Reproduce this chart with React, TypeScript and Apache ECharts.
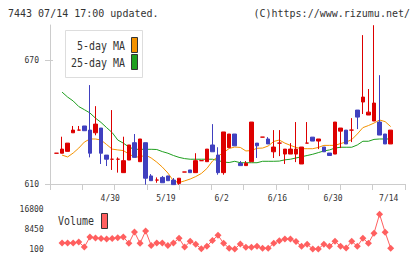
import React, { useEffect, useRef } from "react";
import * as echarts from "echarts";

// Trading days shown on the chart
const dates = [
  "4/15", "4/16", "4/17", "4/20", "4/21", "4/22", "4/23", "4/24", "4/27", "4/28",
  "4/30", "5/1", "5/7", "5/8", "5/11", "5/12", "5/13", "5/14", "5/15", "5/18",
  "5/19", "5/20", "5/21", "5/22", "5/25", "5/26", "5/27", "5/28", "5/29", "6/1",
  "6/2", "6/3", "6/4", "6/5", "6/8", "6/9", "6/10", "6/11", "6/12", "6/15",
  "6/16", "6/17", "6/18", "6/19", "6/22", "6/23", "6/24", "6/25", "6/26", "6/29",
  "6/30", "7/1", "7/2", "7/3", "7/6", "7/7", "7/8", "7/9", "7/10", "7/13",
  "7/14",
];

const opens = [
  624.9, 624.9, 625.8, 634.8, 636.1, 638.1, 636.1, 634.8, 637.1, 624.0,
  622.0, 622.0, 615.5, 621.6, 630.0, 620.8, 630.0, 613.9, 611.9, 613.2,
  613.9, 611.9, 610.3, 615.8, 616.8, 615.5, 621.3, 620.8, 628.9, 624.0,
  615.5, 627.6, 634.2, 620.0, 618.9, 620.8, 629.8, 632.7, 631.8, 625.6,
  629.8, 624.5, 624.5, 624.5, 619.7, 629.8, 632.7, 630.8, 627.9, 625.0,
  624.5, 635.6, 636.1, 636.1, 645.8, 649.7, 643.4, 640.5, 640.0, 634.2,
  629.4,
];
const closes = [
  624.9, 626.9, 629.8, 636.1, 636.1, 635.8, 624.9, 639.0, 624.9, 622.0,
  622.0, 622.0, 621.3, 628.9, 622.9, 631.8, 612.8, 611.6, 611.9, 610.6,
  611.6, 609.7, 612.8, 615.8, 615.5, 621.3, 621.3, 626.9, 625.6, 615.5,
  635.2, 634.2, 628.5, 618.9, 620.0, 640.0, 628.5, 632.7, 629.4, 627.9,
  629.8, 626.9, 626.9, 626.9, 627.9, 629.8, 630.8, 631.8, 625.6, 623.8,
  640.0, 637.1, 629.4, 636.1, 642.4, 652.1, 644.8, 649.2, 633.7, 629.4,
  636.1,
];
const lows = [
  624.9, 624.9, 625.8, 634.8, 636.1, 635.8, 622.9, 633.6, 619.7, 618.7,
  616.8, 615.5, 615.5, 621.6, 622.9, 620.8, 609.7, 611.6, 610.6, 610.6,
  611.6, 609.7, 609.6, 615.8, 615.5, 615.5, 621.3, 620.8, 625.6, 614.5,
  614.5, 627.6, 628.5, 618.9, 618.9, 620.8, 622.6, 632.7, 629.4, 622.6,
  623.5, 619.7, 624.5, 620.6, 619.7, 629.8, 630.8, 626.9, 625.6, 623.8,
  624.5, 627.4, 629.4, 630.3, 636.6, 643.9, 643.4, 640.5, 633.7, 629.4,
  629.4,
];
const highs = [
  624.9, 632.9, 629.8, 638.1, 638.1, 638.1, 657.9, 647.7, 637.1, 624.0,
  645.8, 622.9, 632.9, 628.9, 634.2, 631.8, 630.0, 614.8, 613.2, 613.9,
  613.9, 612.9, 612.8, 615.8, 616.8, 624.9, 621.3, 626.9, 639.0, 627.8,
  635.2, 634.2, 634.2, 621.1, 621.1, 640.0, 629.8, 632.7, 632.7, 636.1,
  636.1, 626.9, 629.8, 640.0, 627.9, 640.0, 632.7, 631.8, 627.9, 625.0,
  640.0, 637.1, 636.1, 641.9, 645.8, 682.1, 656.0, 686.9, 662.7, 634.2,
  636.1,
];

// Moving averages (first day has no value)
const ma5 = [
  null,
  624.0, 623.1, 625.0, 627.4, 630.3, 631.8, 631.8, 631.3, 629.1, 626.9,
  626.5, 626.2, 624.5, 623.1, 623.1, 624.0, 622.6, 620.6, 618.2, 615.3,
  611.5, 610.7, 611.5, 612.4, 613.6, 615.1, 617.5, 621.1, 623.5, 625.2,
  627.2, 627.9, 627.7, 626.0, 626.2, 627.3, 627.4, 628.4, 630.6, 631.3,
  629.8, 628.7, 627.7, 627.1, 627.1, 627.1, 627.7, 628.7, 628.7, 628.7,
  629.6, 630.3, 631.5, 634.2, 637.3, 638.3, 639.5, 641.0, 640.2, 637.8,
];
const ma25 = [
  null,
  654.5, 652.1, 650.2, 647.5, 646.0, 644.4, 641.9, 639.8, 637.3, 634.9,
  631.3, 629.8, 627.9, 626.8, 626.8, 626.8, 626.8, 626.7, 625.7, 624.9,
  623.8, 622.9, 622.3, 622.0, 622.0, 622.0, 622.0, 622.0, 621.4, 620.6,
  620.4, 621.0, 620.3, 620.3, 620.3, 620.3, 621.0, 621.0, 621.0, 621.1,
  621.7, 622.0, 622.6, 623.2, 623.8, 624.4, 625.2, 626.0, 626.5, 627.4,
  627.8, 627.8, 627.8, 628.9, 630.7, 630.7, 631.6, 631.8, 631.8, 631.8,
];

const volumes = [
  null,
  2600, 2600, 2600, 3000, 900, 5100, 4700, 4500, 4300, 4500,
  4800, 5100, 2500, 7200, 2500, 7600, 1600, 2600, 2600, 1600,
  2600, 4600, 900, 3300, 2100, 200, 1200, 3700, 5800, 2500,
  400, 150, 2200, 800, 800, 1200, 400, 400, 2500, 3500,
  4300, 4300, 3200, 1200, 2100, 100, 150, 2100, 1200, 3300,
  1200, 500, 3300, 1200, 4600, 2500, 6700, 14600, 7100, 400,
];

const priceTicks = [610, 670];
const volumeTicks = [100, 8450, 16800];
const priceMin = 610;
const priceMax = 687;
const volumeMin = 100;
const volumeMax = 16800;

const UP = "#dd0000";
const DOWN = "#4040bf";
const MA5_COLOR = "#f39200";
const MA25_COLOR = "#1f9f1f";
const VOL_COLOR = "#ff5f5f";
const AXIS_COLOR = "#cccccc";
const TEXT_COLOR = "#333333";
const MONO = "'DejaVu Sans Mono', 'Liberation Mono', monospace";

export default function App() {
  const ref = useRef<HTMLDivElement>(null);

  useEffect(() => {
    if (!ref.current) return;
    const chart = echarts.init(ref.current, null, { renderer: "svg" });

    const candles = dates.map((_, i) => [opens[i], closes[i], lows[i], highs[i]]);

    const labelStyle = {
      fontFamily: MONO,
      fontSize: 8,
      color: TEXT_COLOR,
    };

    const legendText = (text: string, x: number, y: number, align: string) => ({
      type: "text",
      x,
      y,
      scaleX: 0.83,
      style: {
        text,
        fill: TEXT_COLOR,
        font: `12px ${MONO}`,
        align,
        textAlign: align,
        verticalAlign: "middle",
        textVerticalAlign: "middle",
      },
      z: 10,
    });

    chart.setOption({
      animation: false,
      backgroundColor: "#ffffff",
      grid: [
        // frame with ticks and price labels
        { left: 50, right: 15, top: 25, bottom: 75 },
        // candles
        { left: 53.7, right: 26.5, top: 25, bottom: 75 },
        // volume
        { left: 53.7, right: 26.5, top: 209, bottom: 10 },
      ],
      xAxis: [
        {
          type: "value",
          gridIndex: 0,
          min: 0,
          max: 11,
          interval: 1,
          axisLine: { show: true, lineStyle: { color: AXIS_COLOR } },
          axisTick: { show: true, length: 6, lineStyle: { color: AXIS_COLOR } },
          axisLabel: { show: false },
          splitLine: { show: false },
        },
        {
          type: "category",
          gridIndex: 1,
          data: dates,
          boundaryGap: true,
          axisLine: { show: false },
          axisTick: { show: false },
          axisLabel: {
            ...labelStyle,
            margin: 10,
            padding: [0, 4, 0, 0],
            interval: (index: number) => index > 0 && index % 10 === 0,
          },
          splitLine: { show: false },
        },
        {
          type: "category",
          gridIndex: 2,
          data: dates,
          boundaryGap: true,
          show: false,
        },
      ],
      yAxis: [
        {
          type: "value",
          gridIndex: 0,
          position: "left",
          min: priceMin,
          max: priceMax,
          axisLine: { show: true, lineStyle: { color: AXIS_COLOR } },
          axisTick: {
            show: true,
            length: 5,
            customValues: priceTicks,
            lineStyle: { color: AXIS_COLOR },
          },
          axisLabel: { ...labelStyle, margin: 11, customValues: priceTicks },
          splitLine: { show: false },
        },
        {
          type: "value",
          gridIndex: 0,
          position: "left",
          min: priceMin,
          max: priceMax,
          axisLine: { show: false },
          axisTick: {
            show: true,
            inside: true,
            length: 3,
            customValues: priceTicks,
            lineStyle: { color: AXIS_COLOR },
          },
          axisLabel: { show: false },
          splitLine: { show: false },
        },
        {
          type: "value",
          gridIndex: 1,
          min: priceMin,
          max: priceMax,
          show: false,
          splitLine: { show: false },
        },
        {
          type: "value",
          gridIndex: 2,
          min: volumeMin,
          max: volumeMax,
          axisLine: { show: false },
          axisTick: { show: false },
          axisLabel: {
            ...labelStyle,
            margin: 10,
            customValues: volumeTicks,
            formatter: (v: number) => String(v),
          },
          splitLine: { show: false },
        },
      ],
      series: [
        {
          name: "25-day MA",
          type: "line",
          xAxisIndex: 1,
          yAxisIndex: 2,
          data: ma25,
          showSymbol: false,
          lineStyle: { color: MA25_COLOR, width: 1 },
          z: 1,
        },
        {
          name: "5-day MA",
          type: "line",
          xAxisIndex: 1,
          yAxisIndex: 2,
          data: ma5,
          showSymbol: false,
          lineStyle: { color: MA5_COLOR, width: 1 },
          z: 1,
        },
        {
          name: "Price",
          type: "candlestick",
          xAxisIndex: 1,
          yAxisIndex: 2,
          data: candles,
          barWidth: 4,
          itemStyle: {
            color: UP,
            color0: DOWN,
            borderColor: UP,
            borderColor0: DOWN,
            borderColorDoji: UP,
            borderWidth: 1,
          },
          z: 2,
        },
        {
          name: "Volume",
          type: "line",
          xAxisIndex: 2,
          yAxisIndex: 3,
          data: volumes,
          symbol: "diamond",
          symbolSize: 7,
          showSymbol: true,
          showAllSymbol: true,
          itemStyle: { color: VOL_COLOR },
          lineStyle: { color: VOL_COLOR, width: 1 },
        },
      ],
      graphic: [
        {
          type: "text",
          x: 8,
          y: 13,
          style: {
            text: "7443 07/14 17:00 updated.",
            fill: TEXT_COLOR,
            font: `10px ${MONO}`,
            verticalAlign: "middle",
            textVerticalAlign: "middle",
          },
        },
        {
          type: "text",
          x: 410,
          y: 13,
          style: {
            text: "(C)https://www.rizumu.net/",
            fill: TEXT_COLOR,
            font: `10px ${MONO}`,
            align: "right",
            textAlign: "right",
            verticalAlign: "middle",
            textVerticalAlign: "middle",
          },
        },
        {
          type: "rect",
          shape: { x: 65.5, y: 30.5, width: 77, height: 47 },
          style: { fill: "#ffffff", stroke: "#dddddd", lineWidth: 1 },
          z: 9,
        },
        legendText("5-day MA", 125, 46.5, "right"),
        legendText("25-day MA", 125, 63, "right"),
        {
          type: "rect",
          shape: { x: 131.5, y: 37.5, width: 6, height: 15 },
          style: { fill: MA5_COLOR, stroke: "#333333", lineWidth: 1 },
          z: 10,
        },
        {
          type: "rect",
          shape: { x: 131.5, y: 54.5, width: 6, height: 15 },
          style: { fill: MA25_COLOR, stroke: "#333333", lineWidth: 1 },
          z: 10,
        },
        legendText("Volume", 58, 221.5, "left"),
        {
          type: "rect",
          shape: { x: 101.5, y: 213.5, width: 6, height: 15 },
          style: { fill: VOL_COLOR, stroke: "#333333", lineWidth: 1 },
          z: 10,
        },
      ],
    });

    return () => {
      chart.dispose();
    };
  }, []);

  return (
    <div
      ref={ref}
      style={{ position: "absolute", left: 0, top: 0, width: 420, height: 259 }}
    />
  );
}
